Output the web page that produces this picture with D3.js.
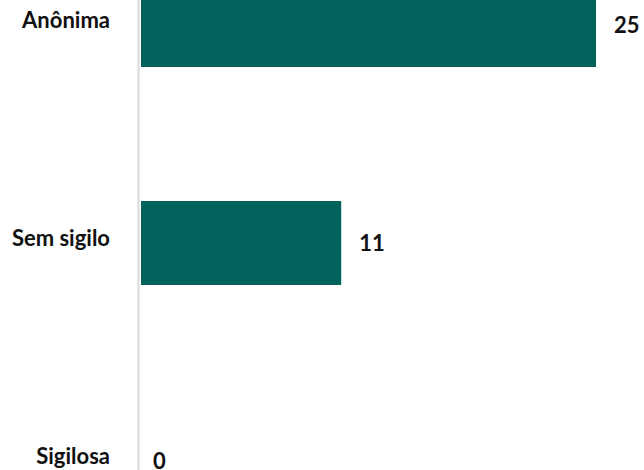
<!DOCTYPE html>
<html lang="pt">
  <head>
    <meta charset="utf-8" />
    <title>Manifestações por tipo</title>
    <script type="text/javascript" src="https://cdn.jsdelivr.net/npm/d3@7"></script>
    <style type="text/css">
body { margin: 0; background: white; }
svg text { font-family: Lato, "Open Sans", sans-serif; font-weight: bold; fill: #111; }
    </style>
  </head>
  <body>
    <script type="text/javascript">
var categories = ["Anônima", "Sem sigilo", "Sigilosa"];
var values = [25, 11, 0];

var w = 644;
var h = 470;
var barColor = "#00625a";

var svg = d3.select("body")
            .append("svg")
            .attr("width", w)
            .attr("height", h);

var xScale = d3.scaleLinear()
               .domain([0, 25])
               .range([141, 596]);

// the chart is cropped at the top, so the band range starts above 0
var yScale = d3.scaleBand()
               .domain(categories)
               .range([-84, 570])
               .paddingInner(0.615)
               .paddingOuter(0.3075);

// axis line
svg.append("line")
   .attr("x1", 138.5).attr("x2", 138.5)
   .attr("y1", 0).attr("y2", h)
   .attr("stroke", "#d9d9d9")
   .attr("stroke-width", 2);

svg.append("g")
   .selectAll("rect")
   .data(values)
   .enter()
   .append("rect")
   .attr("x", xScale(0))
   .attr("y", function(d, i) { return yScale(categories[i]); })
   .attr("width", function(d) { return xScale(d) - xScale(0); })
   .attr("height", yScale.bandwidth())
   .attr("fill", barColor);

var mid = function(i) { return yScale(categories[i]) + yScale.bandwidth() / 2; };

// category labels
svg.append("g")
   .selectAll("text")
   .data(categories)
   .enter()
   .append("text")
   .text(function(d) { return d; })
   .attr("x", 110)
   .attr("y", function(d, i) { return mid(i) - 5; })
   .attr("dy", "0.35em")
   .attr("font-size", "22px")
   .attr("text-anchor", "end");

// value labels
svg.append("g")
   .selectAll("text")
   .data(values)
   .enter()
   .append("text")
   .text(function(d) { return d; })
   .attr("x", function(d) { return xScale(d) + (d > 0 ? 18 : 12); })
   .attr("y", function(d, i) { return mid(i); })
   .attr("dy", "0.35em")
   .attr("font-size", "22px")
   .attr("text-anchor", "start");
    </script>
  </body>
</html>
